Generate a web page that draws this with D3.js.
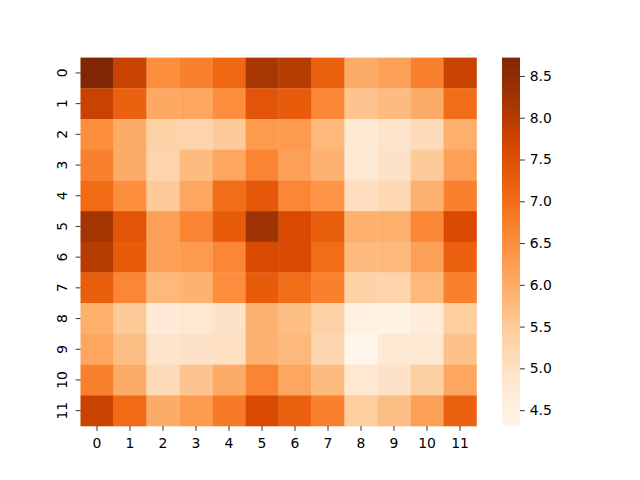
<!DOCTYPE html>
<html><head><meta charset="utf-8">
<script src="https://cdn.jsdelivr.net/npm/d3@7"></script>
<style>body{margin:0;background:#fff}svg{display:block}text{font-family:"DejaVu Sans",sans-serif;fill:#000}</style>
</head><body><svg id="c" width="640" height="480"></svg>
<script>
const rowLabels = ["0","1","2","3","4","5","6","7","8","9","10","11"];
const colLabels = ["0","1","2","3","4","5","6","7","8","9","10","11"];
const values = [
 [8.72,7.80,6.50,6.70,7.10,8.15,8.00,7.20,6.00,6.20,6.70,7.80],
 [7.80,7.20,6.05,6.10,6.50,7.40,7.30,6.60,5.60,5.75,6.00,7.00],
 [6.50,6.00,5.35,5.30,5.50,6.30,6.30,5.80,4.75,4.90,5.10,5.95],
 [6.70,6.00,5.30,5.75,6.10,6.65,6.20,5.90,4.75,4.95,5.50,6.20],
 [7.05,6.50,5.50,6.10,7.00,7.35,6.60,6.40,5.05,5.20,5.90,6.70],
 [8.20,7.40,6.20,6.65,7.30,8.28,7.60,7.25,5.95,5.95,6.60,7.60],
 [8.00,7.30,6.20,6.30,6.60,7.60,7.60,7.00,5.75,5.80,6.20,7.20],
 [7.25,6.60,5.80,5.90,6.50,7.30,7.00,6.70,5.35,5.30,5.80,6.70],
 [5.95,5.50,4.70,4.80,4.95,5.90,5.70,5.35,4.50,4.40,4.65,5.45],
 [6.10,5.70,4.90,4.95,5.00,5.90,5.80,5.25,4.31,4.75,4.80,5.65],
 [6.70,6.00,5.15,5.60,6.00,6.65,6.10,5.75,4.80,4.95,5.40,6.10],
 [7.80,7.05,6.00,6.30,6.80,7.60,7.20,6.70,5.45,5.70,6.20,7.20]
];
const cbTicks = [4.5,5.0,5.5,6.0,6.5,7.0,7.5,8.0,8.5];

const svg = d3.select("#c");
const L=80.5, R=476.5, T=57.6, B=426;
const FS="13.9px", TS=4.86, TP=4.86;
const flat = values.flat();
const vmin = d3.min(flat), vmax = d3.max(flat);
const oranges = ["#fff5eb","#fee6ce","#fdd0a2","#fdae6b","#fd8d3c","#f16913","#d94801","#a63603","#7f2704"];
const cmap = d3.scaleLinear().domain(d3.range(9).map(i=>vmin+(vmax-vmin)*i/8)).range(oranges).interpolate(d3.interpolateRgb).clamp(true);

const x = d3.scaleBand().domain(colLabels).range([L,R]).padding(0);
const y = d3.scaleBand().domain(rowLabels).range([T,B]).padding(0);

const cells=[];
values.forEach((row,i)=>row.forEach((v,j)=>cells.push({r:rowLabels[i],c:colLabels[j],v})));
svg.append("g").selectAll("rect").data(cells).join("rect")
 .attr("x",d=>x(d.c)).attr("y",d=>y(d.r))
 .attr("width",x.bandwidth()+0.3).attr("height",y.bandwidth()+0.3)
 .attr("fill",d=>cmap(d.v));

const xa = svg.append("g").attr("transform",`translate(0,${B})`).call(d3.axisBottom(x).tickSize(TS).tickPadding(TP));
xa.select(".domain").remove();
xa.selectAll("line").attr("stroke","#000").attr("stroke-width",0.8);
xa.selectAll("text").style("font-size",FS).attr("fill","#000").attr("y",22).attr("dy",null);
const ya = svg.append("g").attr("transform",`translate(${L},0)`).call(d3.axisLeft(y).tickSize(TS).tickPadding(TP));
ya.select(".domain").remove();
ya.selectAll("line").attr("stroke","#000").attr("stroke-width",0.8);
ya.selectAll("text").style("font-size",FS).attr("fill","#000")
  .attr("text-anchor","middle").attr("dy",null).attr("x",null)
  .attr("transform","translate(-13.5,0) rotate(-90)");

// colorbar
const cbL=502, cbW=18;
const cy = d3.scaleLinear().domain([vmin,vmax]).range([B,T]);
const defs = svg.append("defs");
const grad = defs.append("linearGradient").attr("id","cg").attr("x1",0).attr("y1",1).attr("x2",0).attr("y2",0);
oranges.forEach((c,i)=>grad.append("stop").attr("offset",i/8).attr("stop-color",c));
svg.append("rect").attr("x",cbL).attr("y",T).attr("width",cbW).attr("height",B-T).attr("fill","url(#cg)");
const ca = svg.append("g").attr("transform",`translate(${cbL+cbW},0)`).call(d3.axisRight(cy).tickValues(cbTicks).tickFormat(d3.format(".1f")).tickSize(TS).tickPadding(TP));
ca.select(".domain").remove();
ca.selectAll("line").attr("stroke","#000").attr("stroke-width",0.8);
ca.selectAll("text").style("font-size",FS).attr("fill","#000");
</script></body></html>
